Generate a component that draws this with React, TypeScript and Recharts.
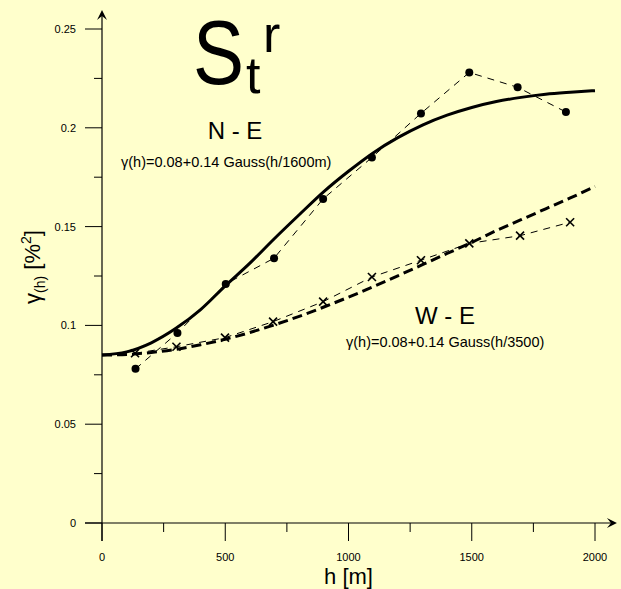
import { LineChart, Line, XAxis, YAxis, ReferenceLine, Customized } from 'recharts';

// fitted curves, every 100 m
const fitH = [0, 100, 200, 300, 400, 500, 600, 700, 800, 900, 1000, 1100, 1200, 1300, 1400, 1500, 1600, 1700, 1800, 1900, 2000];
const fitNE = [0.085, 0.0866, 0.0912, 0.0985, 0.108, 0.12, 0.1315, 0.144, 0.156, 0.1677, 0.178, 0.1873, 0.195, 0.2014, 0.2064, 0.2103, 0.2133, 0.2154, 0.217, 0.218, 0.2188];
const fitWE = [0.085, 0.0853, 0.0863, 0.0879, 0.0902, 0.093, 0.0964, 0.1003, 0.1046, 0.1093, 0.1143, 0.1196, 0.1251, 0.1307, 0.1364, 0.142, 0.148, 0.1535, 0.159, 0.1645, 0.1703];

// observed points
const obsHNE = [136, 306, 502, 698, 897, 1095, 1294, 1490, 1686, 1882];
const obsNE = [0.078, 0.0962, 0.121, 0.134, 0.164, 0.185, 0.2073, 0.228, 0.2205, 0.208];
const obsHWE = [134, 302, 499, 694, 897, 1095, 1294, 1490, 1696, 1899];
const obsWE = [0.0859, 0.0892, 0.0938, 0.1019, 0.112, 0.1245, 0.133, 0.1415, 0.1454, 0.1522];

const xTicks = [0, 250, 500, 750, 1000, 1250, 1500, 1750, 2000];
const yTicks = [0, 0.025, 0.05, 0.075, 0.1, 0.125, 0.15, 0.175, 0.2, 0.225, 0.25];
const xMajor = [0, 500, 1000, 1500, 2000];
const yMajor = [0, 0.05, 0.1, 0.15, 0.2, 0.25];

const neFit = fitH.map((h, i) => ({ h, v: fitNE[i] }));
const weFit = fitH.map((h, i) => ({ h, v: fitWE[i] }));
const neObs = obsHNE.map((h, i) => ({ h, v: obsNE[i] }));
const weObs = obsHWE.map((h, i) => ({ h, v: obsWE[i] }));

const FONT = '"Liberation Sans", Arial, sans-serif';
const BG = '#FFFFCC';

function YTick({ x, y, payload }: any) {
  const major = yMajor.includes(payload.value);
  return (
    <g>
      <line x1={x - (major ? 17 : 8)} x2={x} y1={y} y2={y} stroke="#000" />
      {major && (
        <text x={x - 26} y={y} dy={4} textAnchor="end" fontSize={11} fontFamily={FONT} fill="#000">
          {String(payload.value)}
        </text>
      )}
    </g>
  );
}

function XTick({ x, y, payload }: any) {
  const major = xMajor.includes(payload.value);
  return (
    <g>
      <line x1={x} x2={x} y1={y} y2={y + (major ? 18 : 9)} stroke="#000" />
      {major && (
        <text x={x} y={y + 38} textAnchor="middle" fontSize={11} fontFamily={FONT} fill="#000">
          {String(payload.value)}
        </text>
      )}
    </g>
  );
}

function ArrowLine(props: any) {
  const { x1, y1, x2, y2 } = props;
  const dx = x2 - x1;
  const dy = y2 - y1;
  const len = Math.sqrt(dx * dx + dy * dy) || 1;
  const ux = dx / len;
  const uy = dy / len;
  const px = -uy;
  const py = ux;
  const L = 10;
  const W = 5;
  const head = [
    [x2, y2],
    [x2 - ux * L + px * W, y2 - uy * L + py * W],
    [x2 - ux * L * 0.6, y2 - uy * L * 0.6],
    [x2 - ux * L - px * W, y2 - uy * L - py * W],
  ];
  return (
    <g>
      <line x1={x1} y1={y1} x2={x2 - ux * 4} y2={y2 - uy * 4} stroke="#000" strokeWidth={1.2} />
      <path d={`M${head.map((p) => p.join(',')).join('L')}Z`} fill="#000" />
    </g>
  );
}

function Cross({ cx, cy }: any) {
  if (cx == null || cy == null) return null;
  return (
    <g>
      <line x1={cx - 4} y1={cy - 4} x2={cx + 4} y2={cy + 4} stroke="#000" strokeWidth={1.6} />
      <line x1={cx - 4} y1={cy + 4} x2={cx + 4} y2={cy - 4} stroke="#000" strokeWidth={1.6} />
    </g>
  );
}

function Annotations() {
  return (
    <g fontFamily={FONT} fill="#000">
      <text transform="translate(193,84) scale(0.85,1)" fontSize={90}>S</text>
      <text x={246} y={93} fontSize={52}>t</text>
      <text x={263} y={52} fontSize={52}>r</text>
      <text x={235} y={139} fontSize={24} textAnchor="middle">N - E</text>
      <text x={121} y={167} fontSize={14.5}>γ(h)=0.08+0.14 Gauss(h/1600m)</text>
      <text x={445} y={324} fontSize={24} textAnchor="middle">W - E</text>
      <text x={346} y={347} fontSize={14.5}>γ(h)=0.08+0.14 Gauss(h/3500)</text>
      <text transform="translate(40,267) rotate(-90)" textAnchor="middle" fontSize={22}>
        <tspan>γ</tspan>
        <tspan fontSize={14} dy={5}>(h)</tspan>
        <tspan dy={-5}> [%</tspan>
        <tspan fontSize={14} dy={-9}>2</tspan>
        <tspan dy={9}>]</tspan>
      </text>
    </g>
  );
}

export default function App() {
  return (
    <div style={{ position: 'absolute', left: 0, top: 0, width: 621, height: 589, background: BG }}>
      <LineChart width={621} height={589} margin={{ top: 29, right: 26, left: 0, bottom: 0 }}>
        <XAxis
          dataKey="h"
          type="number"
          domain={[0, 2000]}
          ticks={xTicks}
          interval={0}
          height={66}
          axisLine={false}
          tickLine={false}
          tickSize={0}
          tickMargin={0}
          tick={<XTick />}
          label={{ value: 'h [m]', position: 'insideBottom', offset: 5, fontSize: 22, fill: '#000', fontFamily: FONT }}
        />
        <YAxis
          type="number"
          domain={[0, 0.25]}
          ticks={yTicks}
          interval={0}
          width={102}
          axisLine={false}
          tickLine={false}
          tickSize={0}
          tickMargin={0}
          tick={<YTick />}
        />
        <ReferenceLine segment={[{ x: 0, y: -0.0091 }, { x: 0, y: 0.2596 }]} ifOverflow="visible" shape={ArrowLine} />
        <ReferenceLine segment={[{ x: -69, y: 0 }, { x: 2089, y: 0 }]} ifOverflow="visible" shape={ArrowLine} />
        <Line data={neObs} dataKey="v" type="linear" stroke="#000" strokeWidth={1} strokeDasharray="7 6"
          dot={{ r: 4, fill: '#000', stroke: '#000', strokeWidth: 0 }} isAnimationActive={false} />
        <Line data={weObs} dataKey="v" type="linear" stroke="#000" strokeWidth={1} strokeDasharray="7 6"
          dot={<Cross />} isAnimationActive={false} />
        <Line data={neFit} dataKey="v" type="monotone" stroke="#000" strokeWidth={3} dot={false} isAnimationActive={false} />
        <Line data={weFit} dataKey="v" type="monotone" stroke="#000" strokeWidth={3} strokeDasharray="10 5" dot={false} isAnimationActive={false} />
        <Customized component={Annotations} />
      </LineChart>
    </div>
  );
}
